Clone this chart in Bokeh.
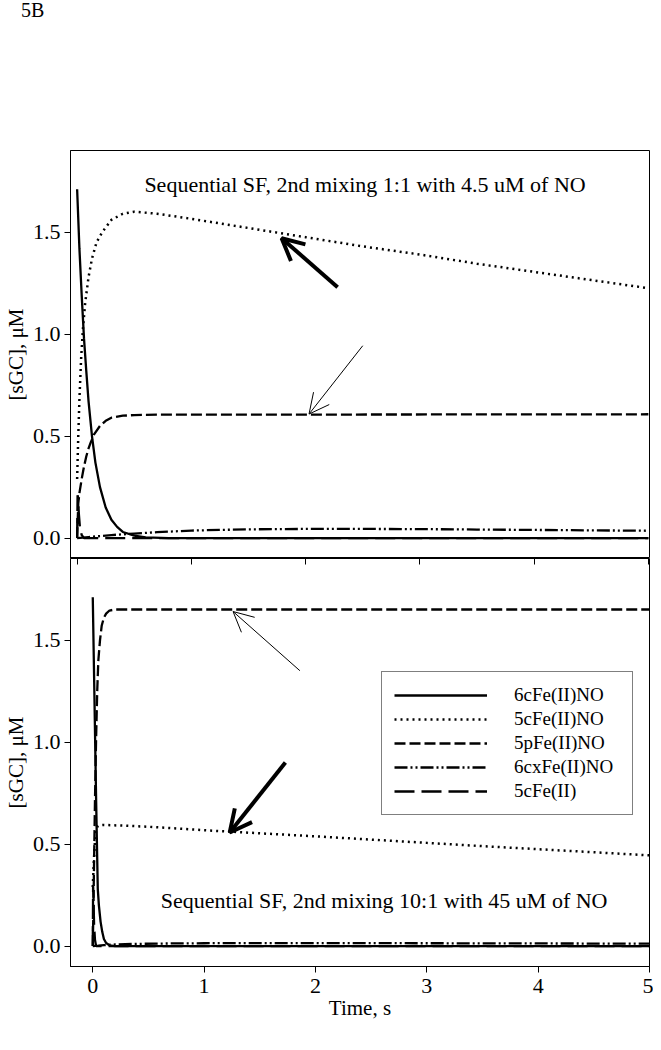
from bokeh.plotting import figure
from bokeh.layouts import column
from bokeh.models import (Range1d, LinearAxis, FixedTicker, PrintfTickFormatter,
                          Legend, LegendItem, Label, Arrow, OpenHead, Div)
from bokeh.embed import file_html
from bokeh.resources import INLINE

FONT = "Liberation Serif"

# ---------------- data: top panel (2nd mixing 1:1, 4.5 uM NO) ----------------
top_t_6c = [0, 0.02, 0.04, 0.06, 0.08, 0.10, 0.13, 0.16, 0.20, 0.25, 0.30, 0.35, 0.40, 0.50, 0.60, 0.80, 1.0, 5.0]
top_y_6c = [1.71, 1.42, 1.19, 0.98, 0.82, 0.67, 0.50, 0.37, 0.25, 0.15, 0.09, 0.055, 0.03, 0.012, 0.004, 0.0, 0.0, 0.0]

top_t_5c = [0, 0.01, 0.02, 0.035, 0.05, 0.07, 0.10, 0.13, 0.17, 0.22, 0.30, 0.40, 0.50, 0.70, 1.0, 1.5, 2.0, 2.5, 3.0, 3.5, 4.0, 4.5, 5.0]
top_y_5c = [0.29, 0.50, 0.68, 0.88, 1.02, 1.15, 1.28, 1.37, 1.45, 1.50, 1.56, 1.59, 1.60, 1.59, 1.565, 1.52, 1.475, 1.43, 1.39, 1.345, 1.305, 1.265, 1.225]

top_t_5p = [0, 0.01, 0.02, 0.04, 0.06, 0.08, 0.10, 0.12, 0.15, 0.20, 0.25, 0.30, 0.40, 0.50, 0.70, 1.0, 5.0]
top_y_5p = [0.0, 0.17, 0.22, 0.29, 0.35, 0.40, 0.44, 0.47, 0.51, 0.55, 0.575, 0.59, 0.60, 0.603, 0.605, 0.605, 0.607]

top_t_6cx = [0, 0.05, 0.10, 0.20, 0.30, 0.50, 0.70, 1.0, 1.5, 2.0, 2.5, 3.0, 3.5, 4.0, 4.5, 5.0]
top_y_6cx = [0, 0.002, 0.005, 0.010, 0.015, 0.022, 0.029, 0.037, 0.043, 0.045, 0.045, 0.044, 0.042, 0.040, 0.038, 0.036]

top_t_5cfe = [0, 0.004, 0.008, 0.015, 0.025, 0.04, 0.06, 5.0]
top_y_5cfe = [0.0, 0.21, 0.20, 0.12, 0.05, 0.015, 0.0, 0.0]

# ---------------- data: bottom panel (2nd mixing 10:1, 45 uM NO) ----------------
bot_t_6c = [0, 0.015, 0.03, 0.045, 0.055, 0.07, 0.085, 0.10, 0.12, 0.15, 0.20, 0.30, 5.0]
bot_y_6c = [1.71, 1.22, 0.72, 0.28, 0.20, 0.12, 0.07, 0.035, 0.015, 0.004, 0.0, 0.0, 0.0]

bot_t_5c = [0, 0.01, 0.02, 0.03, 0.04, 0.06, 0.10, 0.30, 0.50, 1.0, 1.5, 2.0, 2.5, 3.0, 3.5, 4.0, 4.5, 5.0]
bot_y_5c = [0.29, 0.42, 0.52, 0.57, 0.585, 0.592, 0.594, 0.59, 0.585, 0.568, 0.553, 0.538, 0.522, 0.506, 0.49, 0.475, 0.46, 0.445]

bot_t_5p = [0, 0.005, 0.01, 0.02, 0.03, 0.04, 0.05, 0.065, 0.08, 0.10, 0.12, 0.15, 0.20, 5.0]
bot_y_5p = [0.0, 0.15, 0.35, 0.72, 1.02, 1.25, 1.40, 1.50, 1.57, 1.61, 1.63, 1.645, 1.65, 1.65]

bot_t_6cx = [0, 0.05, 0.10, 0.20, 0.40, 0.70, 1.0, 1.5, 2.0, 3.0, 4.0, 5.0]
bot_y_6cx = [0, 0.002, 0.005, 0.008, 0.011, 0.013, 0.014, 0.015, 0.015, 0.014, 0.013, 0.012]

bot_t_5cfe = [0, 0.003, 0.006, 0.012, 0.02, 0.03, 5.0]
bot_y_5cfe = [0.0, 0.30, 0.25, 0.10, 0.03, 0.0, 0.0]

series_names = ["6cFe(II)NO", "5cFe(II)NO", "5pFe(II)NO", "6cxFe(II)NO", "5cFe(II)"]
y_ticks = [0.0, 0.5, 1.0, 1.5]
x_ticks = [0, 1, 2, 3, 4, 5]

figure_tag = "5B"
top_title = "Sequential SF, 2nd mixing 1:1 with 4.5 uM of NO"
bot_title = "Sequential SF, 2nd mixing 10:1 with 45 uM of NO"

# arrows (start x, start y, end x, end y)
top_bold_arrow = (2.28, 1.23, 1.79, 1.47)
top_thin_arrow = (2.50, 0.943, 2.03, 0.608)
bot_thin_arrow = (1.86, 1.35, 1.26, 1.64)
bot_bold_arrow = (1.73, 0.90, 1.23, 0.557)

# ---------------- styles ----------------
styles = [
    dict(line_dash="solid", line_width=2.3),
    dict(line_dash="2 4", line_width=2.5),
    dict(line_dash="11 4", line_width=2.3),
    dict(line_dash="13 3 2 3 2 3", line_width=2.3),
    dict(line_dash="20 7", line_width=2.3),
]

W = 653
FRAME_H = 408
LEFT = 66
RIGHT = 4
TAG_H = 26

top_xr = Range1d(-0.058, 5.01)
bot_xr = Range1d(-0.2, 5.0)


def style_y_axis(ax):
    ax.ticker = FixedTicker(ticks=y_ticks)
    ax.formatter = PrintfTickFormatter(format="%.1f")
    ax.axis_line_color = "black"
    ax.major_tick_line_color = "black"
    ax.minor_tick_line_color = None
    ax.major_tick_out = 6
    ax.major_tick_in = 0
    ax.major_label_standoff = 4
    ax.major_label_text_font = FONT
    ax.major_label_text_font_size = "22px"
    ax.major_label_text_color = "black"
    ax.axis_label = "[sGC], \u03bcM"
    ax.axis_label_text_font = FONT
    ax.axis_label_text_font_size = "21px"
    ax.axis_label_text_font_style = "normal"
    ax.axis_label_text_color = "black"
    ax.axis_label_standoff = 2


def base_fig(height, xr, mb_top, mb_bottom, x_loc):
    p = figure(width=W, height=height, x_range=xr, y_range=Range1d(-0.1, 1.9),
               output_backend="svg", toolbar_location=None,
               min_border_left=LEFT, min_border_right=RIGHT,
               min_border_top=mb_top, min_border_bottom=mb_bottom,
               x_axis_location=x_loc)
    p.grid.visible = False
    p.outline_line_color = "black"
    p.outline_line_width = 1
    p.background_fill_color = "white"
    p.border_fill_color = "white"
    style_y_axis(p.yaxis[0])
    return p


# ---------------- figure tag ----------------
tag = Div(text=figure_tag, width=W, height=TAG_H, margin=0,
          styles={"font-family": FONT, "font-size": "20px", "color": "black",
                  "padding-left": "21px", "line-height": "20px"})

# ---------------- top figure ----------------
top = base_fig(150 - TAG_H + FRAME_H, top_xr, 150 - TAG_H, 0, None)
top_data = [(top_t_6c, top_y_6c), (top_t_5c, top_y_5c), (top_t_5p, top_y_5p),
            (top_t_6cx, top_y_6cx), (top_t_5cfe, top_y_5cfe)]
for (tx, ty), st in zip(top_data, styles):
    top.line(tx, ty, line_color="black", **st)

top.add_layout(Label(x=2.52, y=1.735, text=top_title, text_align="center", text_baseline="middle",
                     text_font=FONT, text_font_size="22px", text_color="black"))

xs, ys, xe, ye = top_bold_arrow
top.add_layout(Arrow(x_start=xs, y_start=ys, x_end=xe, y_end=ye, line_width=4, line_color="black",
                     end=OpenHead(size=22, line_width=4, line_color="black")))
xs, ys, xe, ye = top_thin_arrow
top.add_layout(Arrow(x_start=xs, y_start=ys, x_end=xe, y_end=ye, line_width=1, line_color="black",
                     end=OpenHead(size=20, line_width=1, line_color="black")))

# ---------------- bottom figure ----------------
bot = base_fig(FRAME_H + 60, bot_xr, 0, 60, "below")
xa = bot.xaxis[0]
xa.ticker = FixedTicker(ticks=x_ticks)
xa.axis_line_color = "black"
xa.major_tick_line_color = "black"
xa.minor_tick_line_color = None
xa.major_tick_out = 6
xa.major_tick_in = 0
xa.major_label_standoff = 6
xa.major_label_text_font = FONT
xa.major_label_text_font_size = "22px"
xa.major_label_text_color = "black"
xa.axis_label = "Time, s"
xa.axis_label_text_font = FONT
xa.axis_label_text_font_size = "21px"
xa.axis_label_text_font_style = "normal"
xa.axis_label_text_color = "black"
xa.axis_label_standoff = 0

# ticks of the upper panel's time axis, drawn on the divider (no labels)
bot.extra_x_ranges = {"top": top_xr}
ax_top = LinearAxis(x_range_name="top", ticker=FixedTicker(ticks=x_ticks),
                    major_tick_in=6, major_tick_out=0, major_tick_line_color="black",
                    minor_tick_line_color=None, axis_line_color=None,
                    major_label_text_font_size="0px", major_label_text_color=None,
                    major_label_text_alpha=0, major_label_standoff=0)
bot.add_layout(ax_top, "above")

bot_data = [(bot_t_6c, bot_y_6c), (bot_t_5c, bot_y_5c), (bot_t_5p, bot_y_5p),
            (bot_t_6cx, bot_y_6cx), (bot_t_5cfe, bot_y_5cfe)]
renderers = []
for (tx, ty), st in zip(bot_data, styles):
    renderers.append(bot.line(tx, ty, line_color="black", **st))

bot.add_layout(Label(x=0.61, y=0.223, text=bot_title, text_align="left", text_baseline="middle",
                     text_font=FONT, text_font_size="22px", text_color="black"))

xs, ys, xe, ye = bot_thin_arrow
bot.add_layout(Arrow(x_start=xs, y_start=ys, x_end=xe, y_end=ye, line_width=1, line_color="black",
                     end=OpenHead(size=20, line_width=1, line_color="black")))
xs, ys, xe, ye = bot_bold_arrow
bot.add_layout(Arrow(x_start=xs, y_start=ys, x_end=xe, y_end=ye, line_width=4, line_color="black",
                     end=OpenHead(size=22, line_width=4, line_color="black")))

legend = Legend(items=[LegendItem(label=n, renderers=[r]) for n, r in zip(series_names, renderers)],
                location=(311, 151), orientation="vertical",
                glyph_width=93, glyph_height=20, label_standoff=27, label_width=106, label_height=20,
                spacing=2, padding=12, margin=0,
                label_text_font=FONT, label_text_font_size="19px", label_text_color="black",
                border_line_color="black", border_line_width=1,
                background_fill_color="white", background_fill_alpha=1.0)
bot.add_layout(legend)

layout = column(tag, top, bot, spacing=0)

with open("out.html", "w") as f:
    f.write(file_html(layout, INLINE))
